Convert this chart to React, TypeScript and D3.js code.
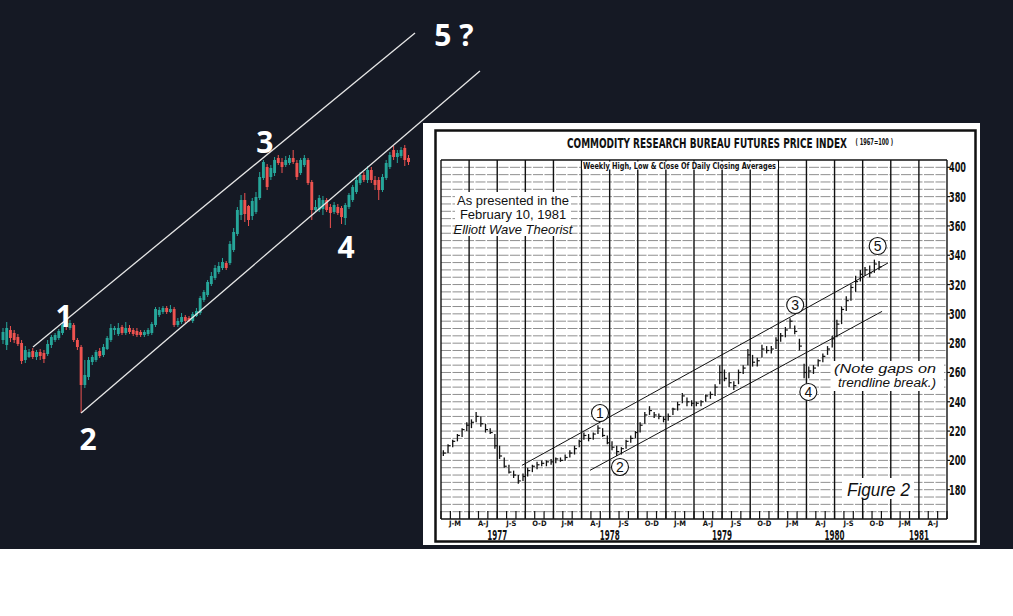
import React from "react";
import * as d3 from "d3";

// ---------- main (dark) candlestick chart ----------
const opens = [
  208,203,218,215,211,205,188,191,197,191,
  196,195,194,203,208,210,215,226,220,223,
  208,201,163,171,186,188,197,193,199,208,
  218,214,221,215,220,218,217,216,213,214,
  215,223,233,236,240,236,239,223,226,231,
  230,227,232,235,248,253,264,270,276,280,
  285,285,298,314,333,348,342,332,336,350,
  370,381,371,375,390,386,383,385,390,385,
  375,383,388,366,338,338,339,348,341,336,
  341,340,330,341,348,356,365,373,368,378,
  368,368,358,370,381,398,391,392,400,390,
];
const closes = [
  216,220,210,208,204,187,198,196,191,196,
  192,189,204,211,213,217,223,221,225,208,
  201,163,173,188,191,196,192,201,210,220,
  220,220,215,220,216,214,213,213,216,218,
  224,239,238,240,236,239,223,227,231,227,
  227,234,237,250,256,266,272,280,282,286,
  280,304,316,338,348,334,328,347,351,371,
  386,361,380,388,385,381,388,390,386,371,
  388,390,365,338,341,350,348,338,335,343,
  335,331,343,353,361,368,373,368,378,368,
  363,358,371,385,393,391,395,398,388,386,
];
const highs = [
  220,226,222,218,214,208,202,199,200,198,
  199,198,208,213,215,219,226,230,228,225,
  210,203,188,191,193,198,200,204,212,224,
  222,225,223,226,223,220,220,218,218,220,
  226,241,241,242,242,243,241,230,235,233,
  232,236,240,252,258,268,276,283,286,290,
  287,307,320,341,353,355,343,350,356,376,
  388,384,383,391,393,390,392,393,398,388,
  390,393,390,368,348,353,352,350,344,346,
  344,342,345,355,363,372,376,376,382,381,
  372,371,374,388,396,402,398,401,403,393,
];
const lows = [
  204,198,206,205,202,184,185,190,189,188,
  188,185,192,200,206,208,213,218,218,206,
  198,135,160,168,183,186,190,191,198,206,
  213,212,213,213,214,212,211,211,211,212,
  213,221,231,234,234,235,221,221,224,225,
  226,225,231,233,246,251,262,268,274,278,
  278,283,296,312,328,326,322,328,334,348,
  368,358,368,372,383,375,381,383,384,368,
  373,381,363,328,336,336,333,336,320,334,
  333,324,323,339,346,354,363,366,365,365,
  358,348,356,368,379,388,385,390,382,383,
];
// channel lines: [index, price] endpoints
const upperChannel = [[8.06, 201], [110.75, 515]];
const lowerChannel = [[21, 135], [128.2, 477]];
const waveLabels = [
  { t: "1", i: 16.4, p: 221 },
  { t: "2", i: 22.85, p: 98 },
  { t: "3", i: 70.4, p: 395 },
  { t: "4", i: 92.2, p: 290 },
  { t: "5 ?", i: 121.2, p: 502 },
];

// ---------- inset: CRB futures price index (semi-monthly bars from Jan 1977) ----------
const crbHigh = [
  207,211,214,218,222,226,228,233,230,225,
  222,218,210,202,197,193,190,191,195,197,
  199,200,200,201,202,202,204,207,210,214,
  219,218,219,224,222,217,213,210,209,214,
  217,220,226,233,237,233,232,230,232,236,
  240,246,243,241,240,241,245,247,252,265,
  262,260,254,262,265,276,272,270,279,278,
  278,284,287,291,297,292,283,266,264,265,
  269,273,278,285,296,305,312,320,326,330,
  332,333,337,336,
];
const crbLow = [
  203,205,209,213,216,220,222,226,223,219,
  218,208,201,195,191,188,184,186,189,192,
  194,196,196,197,198,199,200,202,204,209,
  214,213,214,218,216,211,207,203,204,208,
  212,215,219,225,231,229,228,226,227,231,
  234,239,237,237,237,237,240,242,244,252,
  254,250,248,252,259,265,264,264,270,273,
  273,276,281,284,290,286,275,256,256,259,
  264,267,272,277,284,293,302,309,315,322,
  326,325,328,330,
];
const crbClose = [
  205,210,213,217,221,224,226,230,225,221,
  219,210,203,196,192,190,186,189,193,196,
  197,198,199,199,201,200,202,205,208,213,
  217,215,218,222,217,212,209,206,208,213,
  215,219,224,231,234,231,230,228,230,235,
  238,244,240,239,239,240,244,245,250,260,
  256,253,251,260,263,272,267,268,276,275,
  276,282,285,289,295,288,278,260,261,263,
  268,271,276,283,293,303,309,318,322,327,
  330,328,334,332,
];
const quarterLabels = ["J-M", "A-J", "J-S", "O-D"];
const yearLabels = [
  { y: "1977", m: 6 }, { y: "1978", m: 18 }, { y: "1979", m: 30 },
  { y: "1980", m: 42 }, { y: "1981", m: 51 },
];
const priceTicks = [400, 380, 360, 340, 320, 300, 280, 260, 240, 220, 200, 180];
const insetUpper = [[8.64, 196.6], [47.7, 334.7]];
const insetLower = [[15.9, 193.2], [47.07, 301.7]];
const circled = [
  { n: "1", m: 16.97, p: 232.3 },
  { n: "2", m: 19.1, p: 195.5 },
  { n: "3", m: 37.8, p: 306 },
  { n: "4", m: 39.2, p: 246.7 },
  { n: "5", m: 46.6, p: 346.3 },
];

const W = 1013, H = 616, DARK_H = 549;
const GREEN = "#26a69a", RED = "#ef5350";
const NARROW = "'Liberation Sans Narrow','DejaVu Sans Condensed','Arial Narrow',Roboto,sans-serif";
const SANS = "'Liberation Sans',Arial,sans-serif";

export default function App() {
  const x = d3.scaleLinear().domain([0, opens.length - 1]).range([3, 408.5]);
  const y = d3.scaleLinear().domain([0, 548]).range([548, 0]);
  const bw = 2.9;

  const xi = d3.scaleLinear().domain([0, 54]).range([441, 947]);
  const yi = d3.scaleLinear().domain([160, 405]).range([519, 160]);
  const hLines = d3.range(160, 406, 5);
  const qLines = d3.range(0, 55, 3);
  const months = d3.range(0, 55, 1);

  const seg = (pts: number[][], sx: any, sy: any) =>
    ({ x1: sx(pts[0][0]), y1: sy(pts[0][1]), x2: sx(pts[1][0]), y2: sy(pts[1][1]) });

  const uc = seg(upperChannel, x, y);
  const lc = seg(lowerChannel, x, y);
  const iu = seg(insetUpper, xi, yi);
  const il = seg(insetLower, xi, yi);

  return (
    <svg width={W} height={H} style={{ position: "absolute", left: 0, top: 0 }}>
      <rect x={0} y={0} width={W} height={H} fill="#ffffff" />
      <rect x={0} y={0} width={W} height={DARK_H} fill="#151924" />

      {/* candles */}
      {opens.map((o, i) => {
        const c = closes[i];
        const col = c >= o ? GREEN : RED;
        const top = y(Math.max(o, c));
        const bot = y(Math.min(o, c));
        return (
          <g key={i}>
            <line x1={x(i)} x2={x(i)} y1={y(highs[i])} y2={y(lows[i])} stroke={col} strokeWidth={1} />
            <rect x={x(i) - bw / 2} y={top} width={bw} height={Math.max(1, bot - top)} fill={col} />
          </g>
        );
      })}
      <line {...uc} stroke="#e6e6e6" strokeWidth={1.3} />
      <line {...lc} stroke="#e6e6e6" strokeWidth={1.3} />
      {waveLabels.map((w) => (
        <text key={w.t} x={x(w.i)} y={y(w.p)} fill="#ffffff" fontFamily="'Open Sans',sans-serif"
          fontWeight={700} fontSize={30} textAnchor="middle">{w.t}</text>
      ))}

      {/* inset */}
      <rect x={423} y={123} width={557} height={422} fill="#ffffff" />
      <rect x={435.5} y={130.5} width={540} height={411} fill="none" stroke="#111" strokeWidth={2.5} />

      {hLines.map((v) => (
        <line key={"h" + v} x1={xi(0)} x2={xi(54)} y1={yi(v)} y2={yi(v)}
          stroke={v === 160 || v === 405 ? "#111" : "#6a6a6a"}
          strokeWidth={v === 160 || v === 405 ? 1.6 : 0.75}
          strokeDasharray={v === 160 || v === 405 ? undefined : "10 1.5"} />
      ))}
      {qLines.map((m) => (
        <line key={"q" + m} x1={xi(m)} x2={xi(m)} y1={yi(405)} y2={yi(160)} stroke="#111" strokeWidth={1.4} />
      ))}
      {months.map((m) => (
        <line key={"m" + m} x1={xi(m)} x2={xi(m)} y1={yi(160)} y2={yi(160) - 8} stroke="#111" strokeWidth={1.2} />
      ))}
      {priceTicks.map((v) => (
        <line key={"pt" + v} x1={xi(54)} x2={xi(54) + 3} y1={yi(v)} y2={yi(v)} stroke="#111" strokeWidth={1.2} />
      ))}

      {/* masks for text boxes */}
      <rect x={455} y={192} width={116} height={44} fill="#fff" />
      <rect x={582} y={161.5} width={196} height={8} fill="#fff" />
      <rect x={832} y={361} width={112} height={30} fill="#fff" />
      <rect x={843} y={478} width={71} height={21} fill="#fff" />

      <text x={567} y={148} fontFamily={NARROW} fontWeight={700} fontSize={14} textLength={326}
        lengthAdjust="spacingAndGlyphs" fill="#111">
        <tspan>COMMODITY RESEARCH BUREAU FUTURES PRICE INDEX</tspan>
        <tspan fontSize={8} dx={12} dy={-3}>( 1967=100 )</tspan>
      </text>
      <text x={583} y={168.5} fontFamily={NARROW} fontWeight={700} fontSize={9} textLength={193}
        lengthAdjust="spacingAndGlyphs" fill="#111">Weekly High, Low &amp; Close Of Daily Closing Averages</text>

      <text x={513} y={205} textAnchor="middle" fontFamily={SANS} fontSize={13} fill="#111">As presented in the</text>
      <text x={513} y={219} textAnchor="middle" fontFamily={SANS} fontSize={13} fill="#111">February 10, 1981</text>
      <text x={513} y={234} textAnchor="middle" fontFamily={SANS} fontStyle="italic" fontSize={13} fill="#111">Elliott Wave Theorist</text>

      <text x={834} y={373} fontFamily={SANS} fontStyle="italic" fontSize={12} fill="#111" textLength={102}
        lengthAdjust="spacingAndGlyphs">(Note gaps on</text>
      <text x={838} y={387} fontFamily={SANS} fontStyle="italic" fontSize={12} fill="#111" textLength={98}
        lengthAdjust="spacingAndGlyphs">trendline break.)</text>
      <text x={847} y={496} fontFamily={SANS} fontStyle="italic" fontSize={18} fill="#111" textLength={63}
        lengthAdjust="spacingAndGlyphs">Figure 2</text>

      {priceTicks.map((v) => (
        <text key={"pl" + v} x={949} y={yi(v) + 5} fontFamily={NARROW} fontWeight={700} fontSize={14}
          textLength={17} lengthAdjust="spacingAndGlyphs" fill="#111">{v}</text>
      ))}
      {d3.range(0, 18).map((q) => (
        <text key={"ql" + q} x={xi(q * 3 + 1.5)} y={526} textAnchor="middle" fontFamily={NARROW}
          fontWeight={700} fontSize={7.5} fill="#111">{quarterLabels[q % 4]}</text>
      ))}
      {yearLabels.map((yl) => (
        <text key={yl.y} x={xi(yl.m)} y={540} textAnchor="middle" fontFamily={NARROW} fontWeight={700}
          fontSize={14} textLength={20} lengthAdjust="spacingAndGlyphs" fill="#111">{yl.y}</text>
      ))}

      <line {...iu} stroke="#111" strokeWidth={1} />
      <line {...il} stroke="#111" strokeWidth={1} />

      {crbHigh.map((h, i) => {
        const t = i * 0.5 + 0.25;
        const bx = xi(t);
        return (
          <g key={"b" + i}>
            <line x1={bx} x2={bx} y1={yi(h)} y2={yi(crbLow[i])} stroke="#111" strokeWidth={1.3} />
            <line x1={bx} x2={bx + 2.5} y1={yi(crbClose[i])} y2={yi(crbClose[i])} stroke="#111" strokeWidth={1.2} />
          </g>
        );
      })}

      {circled.map((c) => (
        <g key={"c" + c.n}>
          <circle cx={xi(c.m)} cy={yi(c.p)} r={8.5} fill="#fff" stroke="#111" strokeWidth={1.1} />
          <text x={xi(c.m)} y={yi(c.p) + 5} textAnchor="middle" fontFamily={SANS} fontSize={14} fill="#111">{c.n}</text>
        </g>
      ))}
    </svg>
  );
}
